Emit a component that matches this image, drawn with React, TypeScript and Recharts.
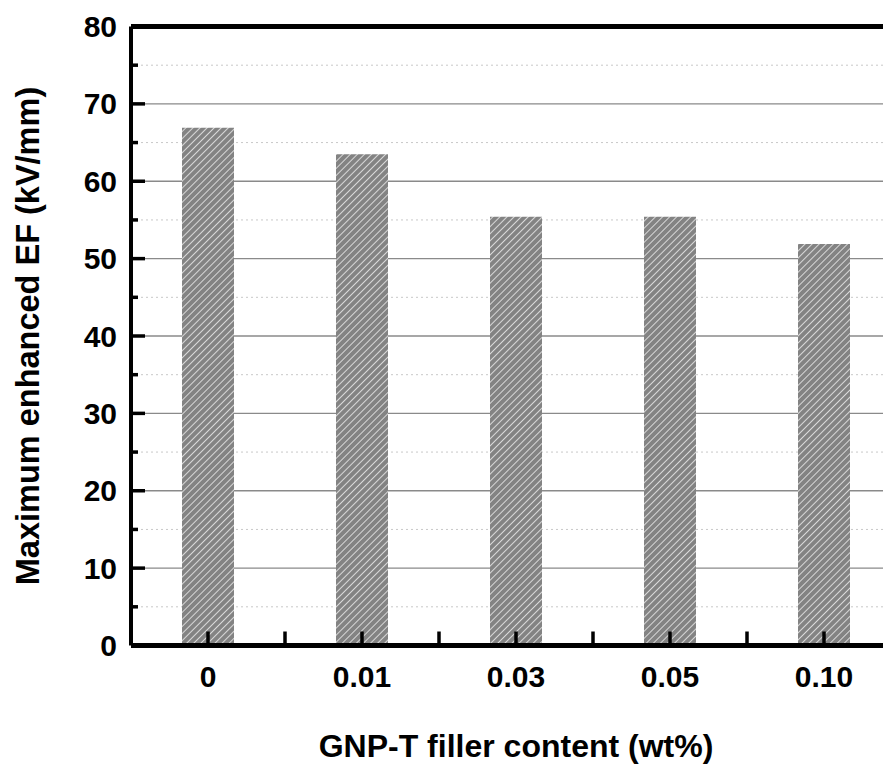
import React from 'react';
import { BarChart, Bar, XAxis, YAxis, CartesianGrid, ReferenceLine } from 'recharts';

const categories = ['0', '0.01', '0.03', '0.05', '0.10'];
const maxEF = [66.9, 63.5, 55.4, 55.4, 51.9];
const yTicks = [0, 5, 10, 15, 20, 25, 30, 35, 40, 45, 50, 55, 60, 65, 70, 75, 80];

const data = categories.map((c, i) => ({ content: c, ef: maxEF[i] }));

const FONT = 'Arial, "Liberation Sans", sans-serif';

const YTick = (props: any) => {
  const { x, y, payload } = props;
  const major = payload.value % 10 === 0;
  return (
    <g>
      <line x1={x} x2={x + (major ? 14 : 7)} y1={y} y2={y} stroke="#000" strokeWidth={3.5} />
      {major && (
        <text
          x={x - 14}
          y={y}
          textAnchor="end"
          dominantBaseline="central"
          fontFamily={FONT}
          fontWeight="bold"
          fontSize={30}
          fill="#000"
        >
          {payload.value}
        </text>
      )}
    </g>
  );
};

const XTick = (props: any) => {
  const { x, y, payload } = props;
  const half = payload.offset;
  return (
    <g>
      <line x1={x} x2={x} y1={y} y2={y - 14} stroke="#000" strokeWidth={3.5} />
      {half && payload.index < categories.length - 1 ? (
        <line x1={x + half} x2={x + half} y1={y} y2={y - 14} stroke="#000" strokeWidth={3.5} />
      ) : null}
      <text
        x={x}
        y={y + 41}
        textAnchor="middle"
        fontFamily={FONT}
        fontWeight="bold"
        fontSize={30}
        fill="#000"
      >
        {payload.value}
      </text>
    </g>
  );
};

const gridLine = (p: any) => {
  const major = p.index % 2 === 0;
  return (
    <line
      key={p.key ?? p.index}
      x1={p.x1}
      x2={p.x2}
      y1={p.y1}
      y2={p.y2}
      stroke={major ? '#8a8a8a' : '#c8c8c8'}
      strokeWidth={major ? 1.3 : 1}
      strokeDasharray={major ? undefined : '2 3'}
    />
  );
};

export default function App() {
  return (
    <div style={{ width: 883, height: 756, overflow: 'hidden' }}>
      <BarChart
        width={900}
        height={756}
        data={data}
        margin={{ top: 18.5, right: 7, left: 0, bottom: 5.5 }}
        barCategoryGap={0}
      >
        <defs>
          <pattern
            id="hatch"
            patternUnits="userSpaceOnUse"
            width={5}
            height={5}
            patternTransform="rotate(45)"
          >
            <rect width={5} height={5} fill="#838383" />
            <line x1={0.5} y1={0} x2={0.5} y2={5} stroke="#d8d8d8" strokeWidth={1} />
          </pattern>
        </defs>
        <CartesianGrid vertical={false} horizontal={gridLine} />
        <XAxis
          dataKey="content"
          height={113}
          axisLine={{ stroke: '#000', strokeWidth: 5 }}
          tickLine={false}
          tickSize={0}
          tickMargin={0}
          tick={<XTick />}
          interval={0}
          label={{
            value: 'GNP-T filler content (wt%)',
            position: 'insideBottom',
            offset: 2,
            style: { fontFamily: FONT, fontWeight: 'bold', fontSize: 32, fill: '#000' },
          }}
        />
        <YAxis
          width={123}
          domain={[0, 80]}
          ticks={yTicks}
          interval={0}
          axisLine={{ stroke: '#000', strokeWidth: 4 }}
          tickLine={false}
          tickSize={0}
          tickMargin={0}
          tick={<YTick />}
          label={{
            value: 'Maximum enhanced EF (kV/mm)',
            angle: -90,
            position: 'insideLeft',
            offset: 19,
            style: { textAnchor: 'middle', fontFamily: FONT, fontWeight: 'bold', fontSize: 32.5, fill: '#000' },
          }}
        />
        <ReferenceLine y={80} stroke="#000" strokeWidth={5} />
        <Bar dataKey="ef" fill="url(#hatch)" barSize={52} isAnimationActive={false} />
      </BarChart>
    </div>
  );
}
